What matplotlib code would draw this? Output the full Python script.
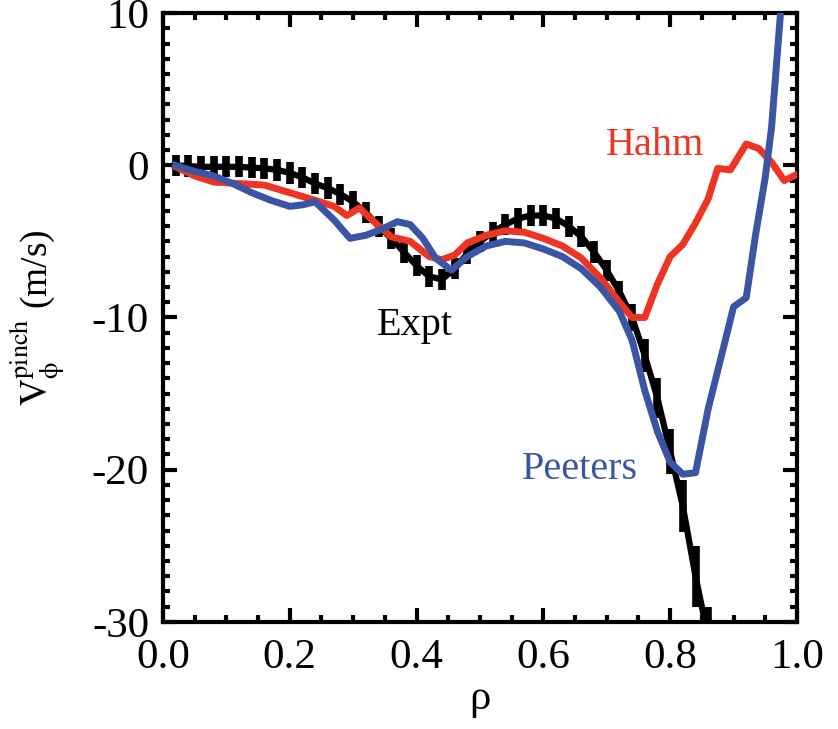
import numpy as np
import matplotlib
matplotlib.use('Agg')
import matplotlib.pyplot as plt
from matplotlib.ticker import MultipleLocator

plt.rcParams['font.family'] = ['Liberation Serif', 'DejaVu Serif']
plt.rcParams['mathtext.fontset'] = 'stix'
plt.rcParams['axes.unicode_minus'] = False

# experimental profile
expt_rho = [0.02, 0.04, 0.06, 0.08, 0.10, 0.12, 0.14, 0.16, 0.18, 0.20,
            0.22, 0.24, 0.26, 0.28, 0.30, 0.32, 0.34, 0.36, 0.38, 0.40,
            0.42, 0.44, 0.46, 0.48, 0.50, 0.52, 0.54, 0.56, 0.58, 0.60,
            0.62, 0.64, 0.66, 0.68, 0.70, 0.72, 0.74, 0.76, 0.78, 0.80,
            0.82, 0.84, 0.86]
expt_v = [0.0, -0.05, -0.1, -0.1, -0.1, -0.1, -0.15, -0.2, -0.3, -0.5,
          -0.8, -1.2, -1.5, -1.9, -2.4, -3.1, -4.0, -4.8, -5.7, -6.6,
          -7.3, -7.5, -6.8, -5.8, -5.0, -4.4, -3.9, -3.5, -3.3, -3.3,
          -3.5, -4.0, -4.7, -5.7, -6.9, -8.3, -10.0, -12.5, -15.3, -18.8,
          -22.4, -27.0, -31.0]
expt_err = [0.7] * 36 + [0.9, 1.1, 1.3, 1.5, 1.7, 2.0, 2.0]

# Hahm model
hahm_rho = [0.02, 0.05, 0.08, 0.12, 0.16, 0.20, 0.24, 0.27, 0.29, 0.31,
            0.33, 0.36, 0.39, 0.42, 0.44, 0.46, 0.48, 0.51, 0.54, 0.57,
            0.60, 0.63, 0.66, 0.69, 0.72, 0.74, 0.76, 0.78, 0.80, 0.82,
            0.84, 0.86, 0.875, 0.895, 0.92, 0.94, 0.96, 0.98, 1.00]
hahm_v = [-0.1, -0.7, -1.1, -1.2, -1.3, -1.8, -2.3, -2.7, -3.3, -2.8,
          -3.6, -4.7, -5.0, -6.0, -6.2, -5.9, -5.1, -4.6, -4.3, -4.4,
          -4.8, -5.3, -6.1, -7.4, -9.0, -10.0, -10.0, -7.8, -6.0, -5.2,
          -3.8, -2.2, -0.2, -0.3, 1.4, 1.1, 0.2, -1.0, -0.6]

# Peeters model
peet_rho = [0.02, 0.05, 0.08, 0.11, 0.14, 0.17, 0.20, 0.22, 0.24, 0.27,
            0.295, 0.32, 0.345, 0.37, 0.39, 0.41, 0.43, 0.455, 0.48, 0.51,
            0.54, 0.57, 0.60, 0.63, 0.66, 0.69, 0.72, 0.74, 0.76, 0.78,
            0.80, 0.82, 0.84, 0.86, 0.875, 0.89, 0.90, 0.92, 0.935, 0.95,
            0.96, 0.975]
peet_v = [0.0, -0.4, -0.7, -1.2, -1.8, -2.3, -2.7, -2.6, -2.4, -3.6,
          -4.8, -4.6, -4.2, -3.7, -3.9, -4.8, -6.1, -6.9, -6.0, -5.3,
          -5.0, -5.1, -5.5, -6.0, -6.8, -8.0, -9.6, -11.5, -14.8, -17.5,
          -19.5, -20.3, -20.2, -16.0, -13.5, -11.0, -9.3, -8.7, -4.5, -0.8,
          2.5, 10.5]

red = '#ee3524'
blue = '#3b55a5'

fig = plt.figure(figsize=(8.38, 7.29), dpi=100)
ax = fig.add_axes([0.1945, 0.147, 0.7565, 0.835])

ax.errorbar(expt_rho, expt_v, yerr=expt_err, color='black', lw=4.5,
            elinewidth=5.5, capsize=0, zorder=2)
ax.plot(hahm_rho, hahm_v, color=red, lw=5, zorder=3)
ax.plot(peet_rho, peet_v, color=blue, lw=5, zorder=4)

ax.text(0.776, 1.3, 'Hahm', color=red, fontsize=29, ha='center', va='center')
ax.text(0.397, -10.5, 'Expt', color='black', fontsize=29, ha='center', va='center')
ax.text(0.658, -20.0, 'Peeters', color=blue, fontsize=29, ha='center', va='center')

ax.set_xlim(0, 1)
ax.set_ylim(-30, 10)
ax.xaxis.set_major_locator(MultipleLocator(0.2))
ax.xaxis.set_minor_locator(MultipleLocator(0.05))
ax.yaxis.set_major_locator(MultipleLocator(10))
ax.yaxis.set_minor_locator(MultipleLocator(1))
ax.set_xticklabels(['%.1f' % v for v in ax.get_xticks()])
ax.tick_params(which='both', direction='in', top=True, right=True,
               labelsize=31, width=3)
ax.tick_params(which='major', length=10)
ax.tick_params(which='minor', length=5)
ax.tick_params(axis='x', pad=12)
ax.tick_params(axis='y', pad=10)
for s in ax.spines.values():
    s.set_linewidth(3)

ax.set_xlabel('ρ', fontsize=31, labelpad=2)
ax.set_ylabel(r'$\mathrm{V}_{\mathrm{\phi}}^{\mathrm{pinch}}$ (m/s)', fontsize=27)
ax.yaxis.set_label_coords(-0.151, 0.5)

fig.savefig('out.png', dpi=100)
